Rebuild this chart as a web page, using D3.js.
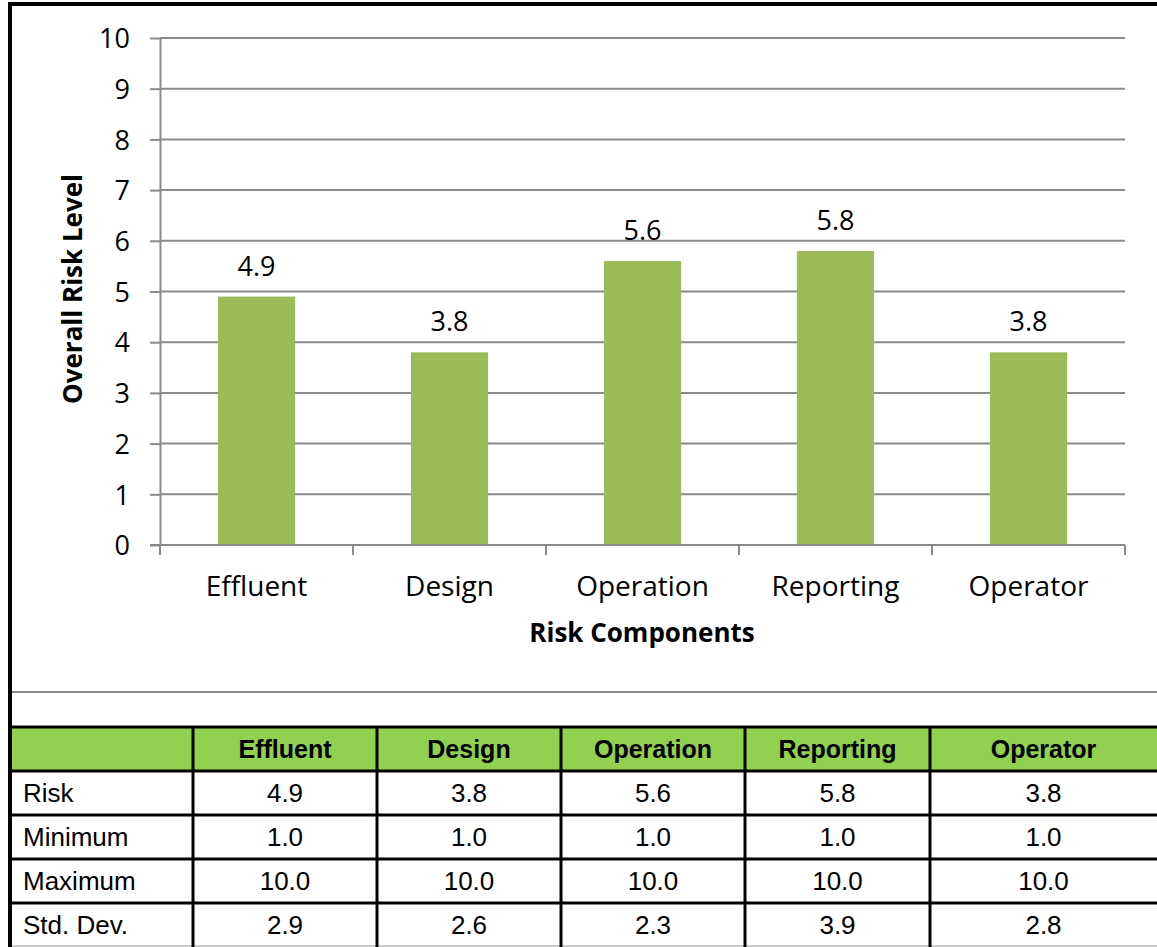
<!DOCTYPE html>
<html>
<head>
<meta charset="utf-8">
<script src="https://cdn.jsdelivr.net/npm/d3@7"></script>
<style>
  body { margin: 0; background: #fff; }
  .tick text { font-family: "Open Sans", sans-serif; }
</style>
</head>
<body>
<div id="chart"></div>
<script>
// data
var categories = ["Effluent", "Design", "Operation", "Reporting", "Operator"];
var riskValues = [4.9, 3.8, 5.6, 5.8, 3.8];
var minValues = [1.0, 1.0, 1.0, 1.0, 1.0];
var maxValues = [10.0, 10.0, 10.0, 10.0, 10.0];
var stdValues = [2.9, 2.6, 2.3, 3.9, 2.8];
var rowLabels = ["Risk", "Minimum", "Maximum", "Std. Dev."];
var yTicks = [0, 1, 2, 3, 4, 5, 6, 7, 8, 9, 10];

var W = 1157, H = 947;
var plot = { left: 160, right: 1125, top: 38, bottom: 545 };

var svg = d3.select("#chart").append("svg")
  .attr("width", W)
  .attr("height", H);

var x = d3.scaleBand().domain(categories).range([plot.left, plot.right]).paddingInner(0).paddingOuter(0);
var y = d3.scaleLinear().domain([0, 10]).range([plot.bottom, plot.top]);

// gridlines
svg.append("g")
  .selectAll("line")
  .data(yTicks.slice(1))
  .enter()
  .append("line")
  .attr("x1", plot.left)
  .attr("x2", plot.right)
  .attr("y1", function (d) { return y(d); })
  .attr("y2", function (d) { return y(d); })
  .attr("stroke", "#8a8a8a")
  .attr("stroke-width", 2);

// bars
var barW = x.bandwidth() * 0.4;
svg.append("g")
  .selectAll("rect")
  .data(categories)
  .enter()
  .append("rect")
  .attr("x", function (d) { return x(d) + (x.bandwidth() - barW) / 2; })
  .attr("width", barW)
  .attr("y", function (d, i) { return y(riskValues[i]); })
  .attr("height", function (d, i) { return plot.bottom - y(riskValues[i]); })
  .attr("fill", "#9bbb59");

// value labels
svg.append("g")
  .selectAll("text")
  .data(categories)
  .enter()
  .append("text")
  .attr("x", function (d) { return x(d) + x.bandwidth() / 2; })
  .attr("y", function (d, i) { return y(riskValues[i]) - 21; })
  .attr("text-anchor", "middle")
  .style("font-family", "'Open Sans', sans-serif")
  .style("font-size", "27px")
  .attr("fill", "#000")
  .text(function (d, i) { return riskValues[i].toFixed(1); });

// y axis
var yAxisG = svg.append("g")
  .attr("transform", "translate(" + plot.left + ",0)")
  .call(d3.axisLeft(y).tickValues(yTicks).tickSize(10).tickPadding(20).tickSizeOuter(0));
yAxisG.select(".domain").attr("stroke", "#8a8a8a").attr("stroke-width", 2);
yAxisG.selectAll(".tick line").attr("stroke", "#8a8a8a").attr("stroke-width", 2);
yAxisG.selectAll(".tick text").style("font-size", "27px").attr("fill", "#000").attr("dy", "0.36em");

// x axis with ticks between categories
var xAxisG = svg.append("g")
  .attr("transform", "translate(0," + plot.bottom + ")");
xAxisG.append("line")
  .attr("x1", plot.left - 10)
  .attr("x2", plot.right)
  .attr("stroke", "#8a8a8a")
  .attr("stroke-width", 2);
xAxisG.selectAll(".xtick")
  .data(categories.concat(["end"]))
  .enter()
  .append("line")
  .attr("class", "xtick")
  .attr("x1", function (d, i) { return plot.left + i * x.bandwidth(); })
  .attr("x2", function (d, i) { return plot.left + i * x.bandwidth(); })
  .attr("y1", 0)
  .attr("y2", 10)
  .attr("stroke", "#8a8a8a")
  .attr("stroke-width", 2);
xAxisG.selectAll(".xlabel")
  .data(categories)
  .enter()
  .append("text")
  .attr("class", "xlabel")
  .attr("x", function (d) { return x(d) + x.bandwidth() / 2; })
  .attr("y", 51)
  .attr("text-anchor", "middle")
  .style("font-family", "'Open Sans', sans-serif")
  .style("font-size", "28px")
  .text(function (d) { return d; });

// axis titles
svg.append("text")
  .attr("transform", "translate(82,289) rotate(-90)")
  .attr("text-anchor", "middle")
  .style("font-family", "'Open Sans', sans-serif")
  .style("font-size", "26px")
  .style("font-weight", "bold")
  .text("Overall Risk Level");

svg.append("text")
  .attr("x", 642)
  .attr("y", 642)
  .attr("text-anchor", "middle")
  .style("font-family", "'Open Sans', sans-serif")
  .style("font-size", "26px")
  .style("font-weight", "bold")
  .text("Risk Components");

// chart box bottom edge
svg.append("line")
  .attr("x1", 10).attr("x2", W)
  .attr("y1", 692).attr("y2", 692)
  .attr("stroke", "#8a8a8a")
  .attr("stroke-width", 2);

// table
var colEdges = [11, 193, 377, 561, 745, 930, W];
var rowScale = d3.scaleBand().domain(d3.range(5)).range([727, 947]);
var rh = rowScale.bandwidth();
var tableRows = [riskValues, minValues, maxValues, stdValues];

var table = svg.append("g");

table.append("rect")
  .attr("x", 11)
  .attr("y", rowScale(0))
  .attr("width", W - 11)
  .attr("height", rh)
  .attr("fill", "#92d050");

table.selectAll(".head")
  .data(categories)
  .enter()
  .append("text")
  .attr("class", "head")
  .attr("x", function (d, i) { return (colEdges[i + 1] + colEdges[i + 2]) / 2; })
  .attr("y", rowScale(0) + rh / 2 + 9)
  .attr("text-anchor", "middle")
  .style("font-family", "'Liberation Sans', Arial, sans-serif")
  .style("font-size", "25px")
  .style("font-weight", "bold")
  .text(function (d) { return d; });

tableRows.forEach(function (vals, r) {
  var ry = rowScale(r + 1) + rh / 2 + 9;
  table.append("text")
    .attr("x", 23)
    .attr("y", ry)
    .style("font-family", "'Liberation Sans', Arial, sans-serif")
    .style("font-size", "26px")
    .text(rowLabels[r]);
  table.selectAll(".cell" + r)
    .data(vals)
    .enter()
    .append("text")
    .attr("x", function (d, i) { return (colEdges[i + 1] + colEdges[i + 2]) / 2; })
    .attr("y", ry)
    .attr("text-anchor", "middle")
    .style("font-family", "'Liberation Sans', Arial, sans-serif")
    .style("font-size", "26px")
    .text(function (d) { return d.toFixed(1); });
});

// table rules
table.selectAll(".hline")
  .data(d3.range(5))
  .enter()
  .append("line")
  .attr("x1", 10).attr("x2", W)
  .attr("y1", function (d) { return rowScale(d); })
  .attr("y2", function (d) { return rowScale(d); })
  .attr("stroke", "#000")
  .attr("stroke-width", 3);

table.append("line")
  .attr("x1", 10).attr("x2", W)
  .attr("y1", 946).attr("y2", 946)
  .attr("stroke", "#cccccc")
  .attr("stroke-width", 2);

table.selectAll(".vline")
  .data(colEdges.slice(1, 6))
  .enter()
  .append("line")
  .attr("x1", function (d) { return d; })
  .attr("x2", function (d) { return d; })
  .attr("y1", 727).attr("y2", 947)
  .attr("stroke", "#000")
  .attr("stroke-width", 3);

// outer black frame
svg.append("rect")
  .attr("x", 10)
  .attr("y", 4)
  .attr("width", W + 10)
  .attr("height", H + 10)
  .attr("fill", "none")
  .attr("stroke", "#000")
  .attr("stroke-width", 4);
</script>
</body>
</html>
